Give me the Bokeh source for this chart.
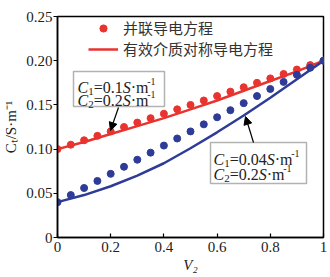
from bokeh.plotting import figure
from bokeh.models import (Label, Arrow, NormalHead, BoxAnnotation, FixedTicker,
                          Legend, LegendItem, Range1d)
from bokeh.embed import file_html
from bokeh.resources import INLINE

# ---- data ----
v2_dots = [0.00, 0.05, 0.10, 0.15, 0.20, 0.25, 0.30, 0.35, 0.40, 0.45, 0.50,
           0.55, 0.60, 0.65, 0.70, 0.75, 0.80, 0.85, 0.90, 0.95, 1.00]
parallel_c1_01 = [0.100, 0.105, 0.110, 0.115, 0.120, 0.125, 0.130, 0.135, 0.140, 0.145, 0.150,
                  0.155, 0.160, 0.165, 0.170, 0.175, 0.180, 0.185, 0.190, 0.195, 0.200]
parallel_c1_004 = [0.040, 0.048, 0.056, 0.064, 0.072, 0.080, 0.088, 0.096, 0.104, 0.112, 0.120,
                   0.128, 0.136, 0.144, 0.152, 0.160, 0.168, 0.176, 0.184, 0.192, 0.200]
v2_line = [0.0, 0.1, 0.2, 0.3, 0.4, 0.5, 0.6, 0.7, 0.8, 0.9, 1.0]
ema_c1_01 = [0.100, 0.108, 0.117, 0.126, 0.135, 0.145, 0.155, 0.166, 0.177, 0.188, 0.200]
ema_c1_004 = [0.040, 0.048, 0.058, 0.070, 0.084, 0.101, 0.119, 0.138, 0.158, 0.179, 0.200]
x_ticks = [0, 0.2, 0.4, 0.6, 0.8, 1.0]
x_tick_labels = ["0", "0.2", "0.4", "0.6", "0.8", "1"]
y_ticks = [0, 0.05, 0.10, 0.15, 0.20, 0.25]
y_tick_labels = ["0", "0.05", "0.10", "0.15", "0.20", "0.25"]
legend_labels = ["并联导电方程", "有效介质对称导电方程"]
x_title = "V₂"
y_title = "Cₜ/S·m⁻¹"

RED = "#e8332f"
BLUE = "#2e3b97"
SERIF = "Liberation Serif"

# frame geometry in pixels
L, R, T, B = 57, 323, 16, 237
W_, H_ = 330, 277


def dx(px):
    return (px - L) / (R - L)


def dy(py):
    return (B - py) * 0.25 / (B - T)


p = figure(width=W_, height=H_, output_backend="svg", toolbar_location=None,
           x_range=Range1d(0, 1), y_range=Range1d(0, 0.25),
           min_border_left=L, min_border_right=W_ - R, min_border_top=T,
           min_border_bottom=H_ - B)
p.xgrid.visible = False
p.ygrid.visible = False
p.outline_line_color = "black"
p.outline_line_width = 1.5
p.background_fill_color = "white"

for ax in (p.xaxis, p.yaxis):
    ax.axis_line_width = 1.5
    ax.major_tick_line_width = 1.2
    ax.minor_tick_line_color = None
    ax.major_label_text_font = SERIF
    ax.major_label_text_font_size = "15px"
    ax.major_label_text_color = "#222222"
    ax.axis_label_text_font = SERIF
    ax.axis_label_text_font_size = "15px"
    ax.axis_label_text_color = "#222222"

p.xaxis.ticker = FixedTicker(ticks=x_ticks)
p.xaxis.major_label_overrides = {t: s for t, s in zip(x_ticks, x_tick_labels)}
p.xaxis.major_tick_in = 4
p.xaxis.major_tick_out = 0
p.xaxis.major_label_standoff = 4
p.xaxis.axis_label = x_title
p.xaxis.axis_label_text_font_style = "italic"
p.xaxis.axis_label_standoff = 2

p.yaxis.ticker = FixedTicker(ticks=y_ticks)
p.yaxis.major_label_overrides = {t: s for t, s in zip(y_ticks, y_tick_labels)}
p.yaxis.major_tick_in = 0
p.yaxis.major_tick_out = 4
p.yaxis.major_label_standoff = 1
p.yaxis.axis_label = y_title
p.yaxis.axis_label_text_font_style = "normal"
p.yaxis.axis_label_standoff = 4

r_red_line = p.line(v2_line, ema_c1_01, line_color=RED, line_width=2.5)
r_blue_line = p.line(v2_line, ema_c1_004, line_color=BLUE, line_width=2.5)
r_red_dots = p.scatter(v2_dots, parallel_c1_01, size=7, fill_color=RED, line_color=RED)
r_blue_dots = p.scatter(v2_dots, parallel_c1_004, size=7, fill_color=BLUE, line_color=BLUE)

legend = Legend(items=[LegendItem(label=legend_labels[0], renderers=[r_red_dots]),
                       LegendItem(label=legend_labels[1], renderers=[r_red_line])],
                location=(31, 178), padding=0, margin=0, spacing=0,
                label_height=18, glyph_height=18, glyph_width=30, label_standoff=5,
                border_line_alpha=0, background_fill_alpha=0,
                label_text_font="Noto Sans CJK SC", label_text_font_size="15px",
                label_text_color="#333333")
p.add_layout(legend)

# ---- rich text helper ----
EM = {'0': .5, '1': .5, '2': .5, '3': .5, '4': .5, '5': .5, '6': .5, '7': .5, '8': .5, '9': .5,
      '.': .25, '=': .564, '·': .25, 'm': .778, '-': .333, '/': .278, 't': .278,
      'C': .667, 'S': .556, 'V': .722}
EMI = {'C': .667, 'S': .5, 'V': .611}


def width(text, size, italic):
    tab = dict(EM)
    if italic:
        tab.update(EMI)
    return sum(tab.get(c, .5) for c in text) * size


def rich(px, py, pieces):
    """pieces: (text, italic, size, shift) ; shift >0 = superscript"""
    adv = 0.0
    for text, italic, size, shift in pieces:
        p.add_layout(Label(x=dx(px), y=dy(py), x_offset=adv, y_offset=shift, text=text,
                           text_font=SERIF, text_font_size=f"{size}px",
                           text_font_style="italic" if italic else "normal",
                           text_color="#222222", text_align="left",
                           text_baseline="alphabetic"))
        adv += width(text, size, italic)


def cond_pieces(c, v):
    return [("C", True, 16, 0), (c, False, 11, -4), ("=" + v, False, 16, 0),
            ("S", True, 16, 0), ("·m", False, 16, 0), ("-1", False, 10, 6)]


# annotation box 1
p.add_layout(BoxAnnotation(left=dx(73), right=dx(164), top=dy(71), bottom=dy(106),
                           fill_color="white", fill_alpha=1, line_color="black",
                           line_width=1.5))
rich(77, 87, cond_pieces("1", "0.1"))
rich(77, 100, cond_pieces("2", "0.2"))
p.add_layout(Arrow(end=NormalHead(size=8, fill_color="black", line_color="black"),
                   x_start=dx(118), y_start=dy(107), x_end=dx(110), y_end=dy(130),
                   line_width=1.2, line_color="black"))

# annotation box 2
p.add_layout(BoxAnnotation(left=dx(210), right=dx(306), top=dy(142), bottom=dy(183),
                           fill_color="white", fill_alpha=1, line_color="black",
                           line_width=1.5))
rich(213, 159, cond_pieces("1", "0.04"))
rich(213, 174, cond_pieces("2", "0.2"))
p.add_layout(Arrow(end=NormalHead(size=8, fill_color="black", line_color="black"),
                   x_start=dx(253), y_start=dy(142), x_end=dx(245), y_end=dy(116),
                   line_width=1.2, line_color="black"))

open("out.html", "w").write(file_html(p, INLINE))
